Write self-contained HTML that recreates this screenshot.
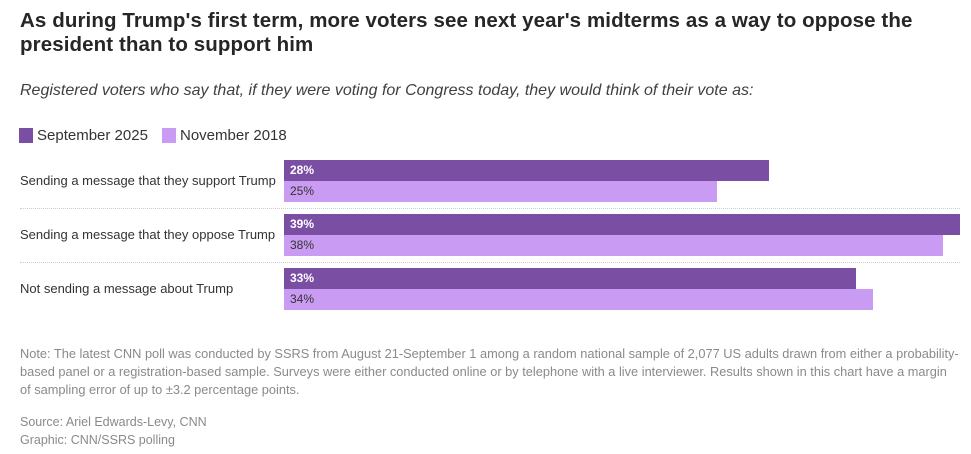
<!DOCTYPE html>
<html><head><meta charset="utf-8"><style>
body{margin:0;background:#fff;font-family:"Liberation Sans",sans-serif;}
#wrap{position:relative;width:971px;height:454px;overflow:hidden;}
.t{position:absolute;white-space:nowrap;}
</style></head><body>
<div id="wrap">
<div class="t" style="left:20px;top:9px;font-size:20.5px;font-weight:bold;color:#262626;line-height:24px;letter-spacing:0.1px;">As during Trump's first term, more voters see next year's midterms as a way to oppose the<br>president than to support him</div>
<div class="t" style="left:20px;top:82px;font-size:16px;font-style:italic;color:#404040;">Registered voters who say that, if they were voting for Congress today, they would think of their vote as:</div>
<div>
<div class="t" style="left:19px;top:128px;width:14px;height:15px;background:#7a4ea3;"></div>
<div class="t" style="left:37px;top:127px;font-size:15px;color:#333;">September 2025</div>
<div class="t" style="left:162px;top:128px;width:14px;height:15px;background:#c99bf2;"></div>
<div class="t" style="left:180px;top:127px;font-size:15px;color:#333;">November 2018</div>
</div>
<div id="plot"></div>
<div class="t" style="left:20px;top:345px;font-size:12.8px;color:#8a8a8a;line-height:18px;">Note: The latest CNN poll was conducted by SSRS from August 21-September 1 among a random national sample of 2,077 US adults drawn from either a probability-<br>based panel or a registration-based sample. Surveys were either conducted online or by telephone with a live interviewer. Results shown in this chart have a margin<br>of sampling error of up to ±3.2 percentage points.</div>
<div class="t" style="left:20px;top:413px;font-size:12.5px;color:#8a8a8a;line-height:18px;">Source: Ariel Edwards-Levy, CNN<br>Graphic: CNN/SSRS polling</div>
</div>
<script>
const categories=["Sending a message that they support Trump","Sending a message that they oppose Trump","Not sending a message about Trump"];
const sep2025=[28,39,33];
const nov2018=[25,38,34];
const wrap=document.getElementById('plot');
const x0=284,pxPer=676/39;
function xs(v){return v*pxPer;}
function rowTop(i){return 160+i*54;}
categories.forEach((c,i)=>{
  const top=rowTop(i);
  const lab=document.createElement('div');
  lab.className='t';
  
  
  lab.style.cssText=`left:20px;top:${top+13}px;font-size:13px;color:#333;`;
  lab.textContent=c;wrap.appendChild(lab);
  [[sep2025,'#7a4ea3','#fff','bold'],[nov2018,'#c99bf2','#333','normal']].forEach((s,j)=>{
    const b=document.createElement('div');
    b.className='t';
    
    
    b.style.cssText=`left:${x0}px;top:${top+j*21}px;width:${xs(s[0][i])}px;height:21px;background:${s[1]};color:${s[2]};font-weight:${s[3]};font-size:12px;line-height:21px;padding-left:6px;box-sizing:border-box;`;
    b.textContent=s[0][i]+'%';wrap.appendChild(b);
  });
  if(i>0){
    const l=document.createElement('div');
    l.className='t';
    
    
    l.style.cssText=`left:20px;top:${top-6}px;width:940px;border-top:1px dotted #ccc;`;
    wrap.appendChild(l);
  }
});
</script>
</body></html>
